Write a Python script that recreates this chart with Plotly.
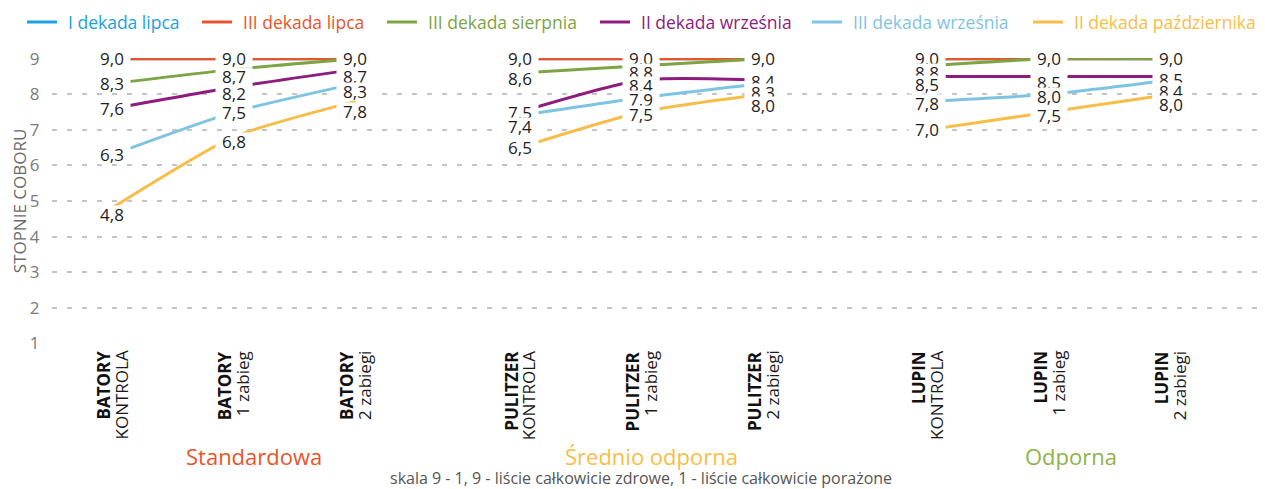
import plotly.graph_objects as go

# ---------------- data ----------------
groups = ["Standardowa", "Średnio odporna", "Odporna"]
cultivars = ["BATORY", "PULITZER", "LUPIN"]
treatments = ["KONTROLA", "1 zabieg", "2 zabiegi"]

series_names = ["I dekada lipca", "III dekada lipca", "III dekada sierpnia",
                "II dekada września", "III dekada września", "II dekada października"]

i_dekada_lipca = [9.0, 9.0, 9.0, 9.0, 9.0, 9.0, 9.0, 9.0, 9.0]
iii_dekada_lipca = [9.0, 9.0, 9.0, 9.0, 9.0, 9.0, 9.0, 9.0, 9.0]
iii_dekada_sierpnia = [8.3, 8.7, 9.0, 8.6, 8.8, 9.0, 8.8, 9.0, 9.0]
ii_dekada_wrzesnia = [7.6, 8.2, 8.7, 7.5, 8.4, 8.4, 8.5, 8.5, 8.5]
iii_dekada_wrzesnia = [6.3, 7.5, 8.3, 7.4, 7.9, 8.3, 7.8, 8.0, 8.4]
ii_dekada_pazdziernika = [4.8, 6.8, 7.8, 6.5, 7.5, 8.0, 7.0, 7.5, 8.0]

series_values = [i_dekada_lipca, iii_dekada_lipca, iii_dekada_sierpnia,
                 ii_dekada_wrzesnia, iii_dekada_wrzesnia, ii_dekada_pazdziernika]

y_ticks = [1, 2, 3, 4, 5, 6, 7, 8, 9]
y_title = "STOPNIE COBORU"
caption = "skala 9 - 1, 9 - liście całkowicie zdrowe, 1 - liście całkowicie porażone"

# ---------------- style ----------------
colors = ["#1ba1e2", "#e9552b", "#7da444", "#8e1c7f", "#7ec4e2", "#f8bd48"]
group_colors = ["#e9552b", "#f8bd48", "#8db44b"]
group_label_xshift = [20, 10, 22]
legend_line_x = [27, 202, 387, 600, 812, 1033]   # screen px where each legend line starts
# vertical nudges (px) of value labels, keyed by (series index, point index)
label_nudge = {
    (5, 0): -6,
    (2, 1): -7, (3, 1): -6, (5, 1): -5,
    (3, 2): -7, (4, 2): -8, (5, 2): -10,
    (2, 3): -6, (4, 3): -11,
    (2, 4): -7, (3, 4): -5, (4, 4): -2, (5, 4): -2,
    (3, 5): -1, (4, 5): -9, (5, 5): -11,
    (2, 6): -7, (3, 6): -8, (4, 6): -2,
    (3, 7): -6, (4, 7): -2, (5, 7): -3,
    (3, 8): -3, (4, 8): -11, (5, 8): -10,
}

FONT = "Open Sans"
OFF = 8                      # page body margin
SCREEN_W, SCREEN_H = 1265, 489
W, H = SCREEN_W - OFF, SCREEN_H - OFF
# plot area in screen pixels
P_LEFT, P_RIGHT, P_TOP, P_BOTTOM = 52, 1257, 58, 344
L = P_LEFT - OFF
T = P_TOP - OFF
R = W - (P_RIGHT - OFF)
B = H - (P_BOTTOM - OFF)
plot_w = W - L - R
plot_h = H - T - B
GROUP_STEP = 3.35
PX_PER_UNIT = 121.7
FIRST_POINT_PX = 112


def paper_x(sx):
    return (sx - OFF - L) / plot_w


def paper_y(sy):
    return (H - B - (sy - OFF)) / plot_h


# x positions per category (group offset + treatment index)
xpos, x_cult, x_treat = [], [], []
for g, cv in enumerate(cultivars):
    for t, tr in enumerate(treatments):
        xpos.append(g * GROUP_STEP + t)
        x_cult.append(cv)
        x_treat.append(tr)

fig = go.Figure()

for s, (name, vals) in enumerate(zip(series_names, series_values)):
    xs, ys = [], []
    for g in range(len(cultivars)):
        for t in range(len(treatments)):
            k = g * len(treatments) + t
            xs.append(xpos[k])
            ys.append(vals[k])
        xs.append(None)
        ys.append(None)
    fig.add_trace(go.Scatter(
        x=xs, y=ys, mode="lines", name=name, showlegend=False,
        line=dict(color=colors[s], width=3, shape="spline", smoothing=0.6),
        connectgaps=False, hoverinfo="skip",
    ))

annotations = []
shapes = []

# value labels with white boxes (mask lines near the points)
for k in range(len(xpos)):
    seen = set()
    for s, vals in enumerate(series_values):
        v = vals[k]
        if v in seen:
            continue
        seen.add(v)
        annotations.append(dict(
            x=xpos[k], y=v, xref="x", yref="y",
            text=f"{v:.1f}".replace(".", ","),
            showarrow=False, bgcolor="white", borderpad=0,
            width=36, height=17,
            yshift=label_nudge.get((s, k), 0),
            font=dict(family=FONT, size=17, color="#1e1e1e"),
        ))

# category labels (rotated, two lines)
for k in range(len(xpos)):
    annotations.append(dict(
        x=xpos[k], y=paper_y(350), xref="x", yref="paper",
        text=f"<b>{x_cult[k]}</b>", textangle=-90, showarrow=False,
        xanchor="center", yanchor="top", xshift=-9, borderpad=0,
        font=dict(family=FONT, size=17, color="#111111"),
    ))
    annotations.append(dict(
        x=xpos[k], y=paper_y(350), xref="x", yref="paper",
        text=x_treat[k], textangle=-90, showarrow=False,
        xanchor="center", yanchor="top", xshift=9, borderpad=0,
        font=dict(family=FONT, size=17, color="#1a1a1a"),
    ))

# group names
for g, name in enumerate(groups):
    annotations.append(dict(
        x=xpos[g * len(treatments) + 1], y=paper_y(456), xref="x", yref="paper",
        text=name, showarrow=False, xanchor="center", yanchor="middle",
        xshift=group_label_xshift[g],
        font=dict(family=FONT, size=22, color=group_colors[g]),
    ))

annotations.append(dict(
    x=paper_x(641), y=paper_y(478), xref="paper", yref="paper",
    text=caption, showarrow=False, xanchor="center", yanchor="middle",
    font=dict(family=FONT, size=16, color="#555555"),
))

# custom legend (line + coloured name)
for s, name in enumerate(series_names):
    lx = legend_line_x[s]
    shapes.append(dict(
        type="line", xref="paper", yref="paper",
        x0=paper_x(lx), x1=paper_x(lx + 30), y0=paper_y(22), y1=paper_y(22),
        line=dict(color=colors[s], width=3),
    ))
    annotations.append(dict(
        x=paper_x(lx + 39), y=paper_y(22), xref="paper", yref="paper",
        text=name, showarrow=False, xanchor="left", yanchor="middle",
        font=dict(family=FONT, size=17.5, color=colors[s]),
    ))

x0 = -(FIRST_POINT_PX - P_LEFT) / PX_PER_UNIT
x1 = x0 + plot_w / PX_PER_UNIT

fig.update_layout(
    width=W, height=H,
    margin=dict(l=L, r=R, t=T, b=B, autoexpand=False),
    paper_bgcolor="white", plot_bgcolor="white",
    font=dict(family=FONT),
    showlegend=False,
    annotations=annotations,
    shapes=shapes,
    xaxis=dict(
        range=[x0, x1], tickvals=xpos, showticklabels=False,
        showgrid=False, zeroline=False, showline=False, ticks="",
        fixedrange=True,
    ),
    yaxis=dict(
        range=[0.98, 9.02], tickvals=y_ticks,
        showgrid=True, gridcolor="#c4c4c4", gridwidth=1.5, griddash="5px,10px",
        zeroline=False, showline=False,
        ticks="outside", ticklen=8, tickcolor="rgba(0,0,0,0)",
        tickfont=dict(family=FONT, size=17, color="#7a7a7a"),
        title=dict(text=y_title, standoff=5,
                   font=dict(family=FONT, size=17, color="#6a6a6a")),
        fixedrange=True,
    ),
)

fig.write_html("out.html")
